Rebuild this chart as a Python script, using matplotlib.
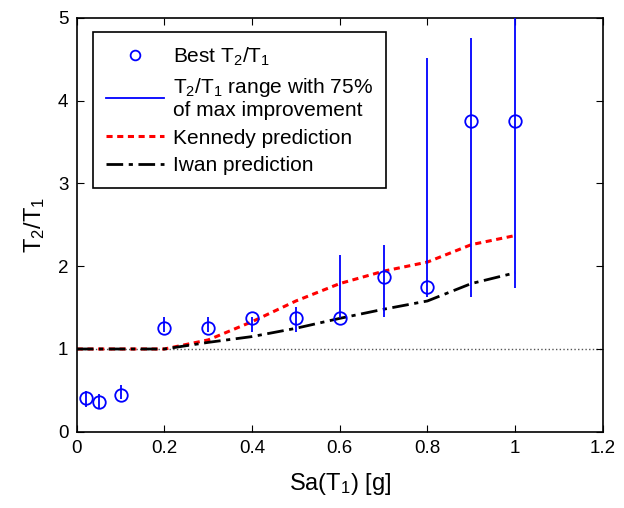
import numpy as np
import matplotlib
matplotlib.use("Agg")
import matplotlib.pyplot as plt
from matplotlib.lines import Line2D

plt.rcParams['font.family'] = ['Liberation Sans', 'DejaVu Sans']
plt.rcParams['mathtext.fontset'] = 'custom'
plt.rcParams['mathtext.rm'] = 'Liberation Sans'
plt.rcParams['mathtext.it'] = 'Liberation Sans'

# data
sa = [0.02, 0.05, 0.1, 0.2, 0.3, 0.4, 0.5, 0.6, 0.7, 0.8, 0.9, 1.0]
best_ratio = [0.41, 0.36, 0.45, 1.25, 1.25, 1.375, 1.375, 1.375, 1.875, 1.75, 3.75, 3.75]
range_low = [0.30, 0.28, 0.40, 1.20, 1.20, 1.20, 1.20, 1.375, 1.39, 1.63, 1.63, 1.74]
range_high = [0.49, 0.46, 0.56, 1.39, 1.39, 1.39, 1.51, 2.14, 2.26, 4.51, 4.75, 5.2]

kennedy_x = [0.0, 0.2, 0.3, 0.4, 0.5, 0.6, 0.7, 0.8, 0.9, 1.0]
kennedy_y = [1.0, 1.0, 1.11, 1.33, 1.58, 1.79, 1.94, 2.05, 2.26, 2.37]
iwan_x = [0.0, 0.2, 0.3, 0.4, 0.5, 0.6, 0.7, 0.8, 0.9, 1.0]
iwan_y = [1.0, 1.0, 1.08, 1.15, 1.25, 1.37, 1.48, 1.58, 1.79, 1.92]

fig = plt.figure(figsize=(6.24, 5.08), dpi=100)
ax = fig.add_axes([0.123, 0.150, 0.843, 0.815])

ax.axhline(1.0, color='#555555', linestyle=':', linewidth=1.0, zorder=1)
ax.vlines(sa, range_low, range_high, color='#0000ff', linewidth=1.3, zorder=3)
ax.plot(sa, best_ratio, 'o', markerfacecolor='none', markeredgecolor='#0000ff',
        markersize=9, markeredgewidth=1.3, zorder=4)
ax.plot(kennedy_x, kennedy_y, color='#ff0000', linestyle=(0, (2, 1.5)), linewidth=2.2, zorder=2)
ax.plot(iwan_x, iwan_y, color='black', linestyle=(0, (6, 2, 1.5, 2)), linewidth=2.0, zorder=2)

ax.set_xlim(0, 1.2)
ax.set_ylim(0, 5)
ax.set_xticks(np.arange(0, 1.21, 0.2))
ax.set_xticklabels(['0', '0.2', '0.4', '0.6', '0.8', '1', '1.2'])
ax.set_yticks(range(6))
ax.tick_params(direction='in', top=True, right=True, labelsize=13.5, length=5, pad=6)
for s in ax.spines.values():
    s.set_linewidth(1.2)

ax.set_xlabel(r'Sa(T$_1$) [g]', fontsize=17, labelpad=10)
ax.set_ylabel(r'T$_2$/T$_1$', fontsize=17, labelpad=8)

handles = [
    Line2D([], [], marker='o', linestyle='none', markerfacecolor='none',
           markeredgecolor='#0000ff', markersize=7, markeredgewidth=1.3),
    Line2D([], [], color='#0000ff', linewidth=1.3),
    Line2D([], [], color='#ff0000', linestyle=(0, (2, 1.5)), linewidth=2.2),
    Line2D([], [], color='black', linestyle=(0, (6, 2, 1.5, 2)), linewidth=2.0),
]
labels = [r'Best T$_2$/T$_1$', 'T$_2$/T$_1$ range with 75%\nof max improvement',
          'Kennedy prediction', 'Iwan prediction']
leg = ax.legend(handles, labels, loc='upper left', bbox_to_anchor=(0.030, 0.966),
                borderaxespad=0, fontsize=15, frameon=True, fancybox=False,
                edgecolor='black', framealpha=1, handlelength=2.8, borderpad=0.65,
                labelspacing=0.4, handletextpad=0.4)
leg.get_frame().set_linewidth(1.2)
for t in leg.get_texts():
    t.set_linespacing(1.15)

fig.savefig('out.png', dpi=100)
